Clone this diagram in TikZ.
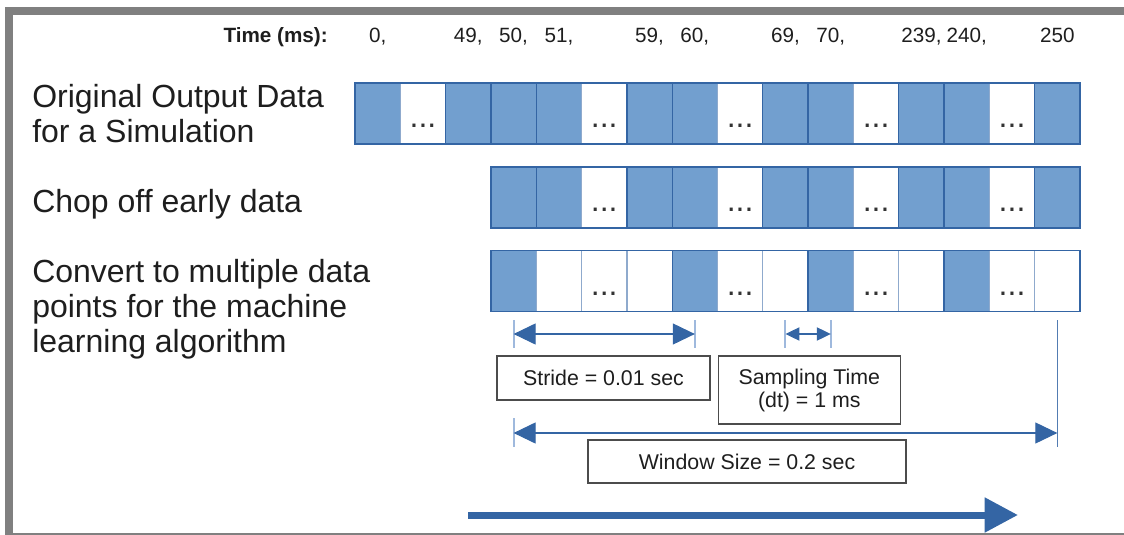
\documentclass[tikz,border=0pt]{standalone}
\usepackage{fontspec}
\setmainfont{Liberation Sans}
\usetikzlibrary{arrows.meta, positioning}

\definecolor{cellblue}{HTML}{729FCF}
\definecolor{celledge}{HTML}{3465A4}
\definecolor{ticklite}{HTML}{9FB9DD}
\definecolor{framegray}{HTML}{808080}
\definecolor{inktext}{HTML}{1E1E1E}

\begin{document}
\begin{tikzpicture}[x=0.75pt, y=-0.75pt, text=inktext,
    cell/.style={rectangle, draw=celledge, line width=1pt, minimum width=33.98pt, minimum height=45.75pt, inner sep=0pt, outer sep=0pt},
    cellb/.style={cell, fill=cellblue},
    cellw/.style={cell, fill=white, draw=celledge!55},
    celld/.style={cellw, text=black!80, font=\fontsize{24}{24}\selectfont, text height=21pt, text depth=0pt, execute at begin node={...}},
    rowlabel/.style={font=\fontsize{24}{26.25}\selectfont, align=left, inner sep=0pt},
    tlabel/.style={font=\fontsize{15.5}{18}\selectfont, inner sep=0pt},
    infobox/.style={rectangle, draw=black!70, line width=1pt, fill=white, align=center, inner sep=0pt, font=\fontsize{16}{17.25}\selectfont},
    tick/.style={draw=ticklite, line width=1.5pt},
    dim/.style={draw=celledge, line width=0.8pt, >={Triangle[length=16.5pt, width=15.75pt]}, <->},
    dimsmall/.style={dim, >={Triangle[length=10.5pt, width=10pt]}},
    flow/.style={draw=celledge, line width=5.25pt, -{Triangle[length=25pt, width=25pt]}}
]
    \useasboundingbox (0,0) rectangle (1124,535);

    % Frame
    \fill[framegray] (5,7) rectangle (1124,15);
    \fill[framegray] (5,7) rectangle (13,535);
    \fill[framegray] (5,533) rectangle (1124,535);

    % Rows of samples
    \foreach \t [count=\k] in {b,d,b,b,b,d,b,b,d,b,b,d,b,b,d,b}
        \node[cell\t] (r1-\k) at ({355+(\k-0.5)*45.3125}, 113.5) {};
    \foreach \t [count=\k from 4] in {b,b,d,b,b,d,b,b,d,b,b,d,b}
        \node[cell\t] (r2-\k) at ({355+(\k-0.5)*45.3125}, 197.5) {};
    \foreach \t [count=\k from 4] in {b,w,d,w,b,d,w,b,d,w,b,d,w}
        \node[cell\t] (r3-\k) at ({355+(\k-0.5)*45.3125}, 281) {};
    \draw[celledge, line width=1pt] (r1-1.north west) rectangle (r1-16.south east);
    \draw[celledge, line width=1pt] (r2-4.north west) rectangle (r2-16.south east);
    \draw[celledge, line width=1pt] (r3-4.north west) rectangle (r3-16.south east);

    % Time axis
    \node[tlabel, font=\bfseries\fontsize{15.5}{18}\selectfont, anchor=base east] (tms) at (328,43) {Time (ms):};
    \foreach \k/\v in {1/{0,}, 3/{49,}, 4/{50,}, 5/{51,}, 7/{59,}, 8/{60,}, 10/{69,}, 11/{70,}, 13/{239,}, 14/{240,}, 16/{250}}
        \node[tlabel, anchor=base] (t\k) at (r1-\k |- 0,43) {\v};

    % Row labels
    \node[rowlabel, anchor=north west] (orig) at (32,84.5) {Original Output Data\\for a Simulation};
    \node[rowlabel, anchor=base west] (chop) at (32,212) {Chop off early data};
    \node[rowlabel, anchor=north west] (conv) at (32,259.5) {Convert to multiple data\\points for the machine\\learning algorithm};

    % Stride
    \draw[tick] (r3-4 |- 0,320) -- (r3-4 |- 0,348);
    \draw[tick] (r3-8 |- 0,320) -- (r3-8 |- 0,348);
    \coordinate (strL) at (r3-4 |- 0,334);
    \coordinate (strR) at (r3-8 |- 0,334);
    \draw[dim] (strL) -- (strR);

    % Sampling time
    \draw[tick] (r3-10 |- 0,320) -- (r3-10 |- 0,348);
    \draw[tick] (r3-11 |- 0,320) -- (r3-11 |- 0,348);
    \coordinate (smpL) at (r3-10 |- 0,334);
    \coordinate (smpR) at (r3-11 |- 0,334);
    \draw[dimsmall] (smpL) -- (smpR);

    % Window
    \draw[tick] (r3-4 |- 0,418) -- (r3-4 |- 0,447);
    \draw[tick, draw=celledge!85, line width=1.1pt] (r3-16 |- 0,320) -- (r3-16 |- 0,447);
    \coordinate (winL) at (r3-4 |- 0,433);
    \coordinate (winR) at (r3-16 |- 0,433);
    \draw[dim] (winL) -- (winR);

    % Captions
    \node[infobox, minimum width=159.75pt, minimum height=33pt] (stride) at (603.5,378) {Stride = 0.01 sec};
    \node[infobox, minimum width=136.5pt, minimum height=51pt, right=5.25pt of stride.north east, anchor=north west] (samp) {Sampling Time\\(dt) = 1 ms};
    \node[infobox, minimum width=238.5pt, minimum height=32.25pt] (win) at (747,461.5) {Window Size = 0.2 sec};

    % Direction of time
    \coordinate (flowS) at (468,515);
    \coordinate (flowE) at (1018,515);
    \draw[flow] (flowS) -- (flowE);
\end{tikzpicture}
\end{document}
